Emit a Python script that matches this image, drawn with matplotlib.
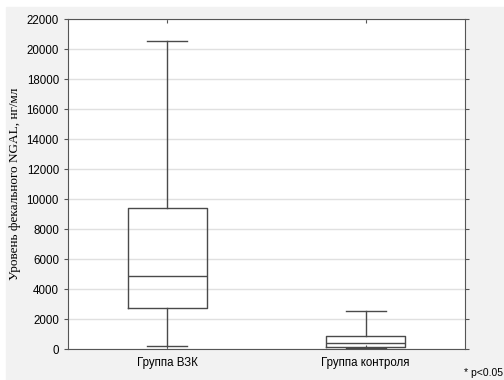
import matplotlib
matplotlib.use("Agg")
import matplotlib.pyplot as plt
from matplotlib.patches import Rectangle

# box statistics (ng/ml)
groups = ["Группа ВЗК", "Группа контроля"]
whislo = [180, 50]
q1 = [2710, 130]
med = [4850, 380]
q3 = [9420, 850]
whishi = [20530, 2530]
yticks = list(range(0, 22001, 2000))

stats = [dict(label=g, whislo=lo, q1=a, med=m, q3=b, whishi=hi, fliers=[])
         for g, lo, a, m, b, hi in zip(groups, whislo, q1, med, q3, whishi)]

fig = plt.figure(figsize=(5.04, 3.80), dpi=100, facecolor="white")
fig.patches.append(Rectangle((6 / 504, 0), 1, 1 - 7 / 380,
                             transform=fig.transFigure, color="#f2f2f2",
                             zorder=-10))
ax = fig.add_axes([68 / 504, 1 - 349 / 380, 397 / 504, 330 / 380])
ax.set_facecolor("white")

line = dict(color="#4a4a4a", lw=1.0)
ax.bxp(stats, positions=[1, 2], widths=0.4, showfliers=False,
       boxprops=line, whiskerprops=line, capprops=line,
       medianprops=line, capwidths=0.2)

ax.set_xlim(0.5, 2.5)
ax.set_ylim(0, 22000)
ax.set_yticks(yticks)
ax.yaxis.grid(True, color="#e0e0e0", lw=1)
ax.set_axisbelow(True)
for s in ax.spines.values():
    s.set_color("#555555")
ax.tick_params(axis="y", labelsize=8.3, length=3, color="#555555", right=True)
ax.tick_params(axis="x", labelsize=8.3, length=3, color="#555555", top=True,
               direction="in", pad=6)
for lab in ax.get_yticklabels() + ax.get_xticklabels():
    lab.set_fontfamily("Liberation Sans")
ax.set_ylabel("Уровень фекального NGAL, нг/мл", fontsize=9.5,
              family="Liberation Serif", labelpad=4)

fig.text(503 / 504, 2 / 380, "* p<0.05", fontsize=7.5,
         family="Liberation Sans", va="bottom", ha="right")

fig.savefig("out.png", dpi=100)
